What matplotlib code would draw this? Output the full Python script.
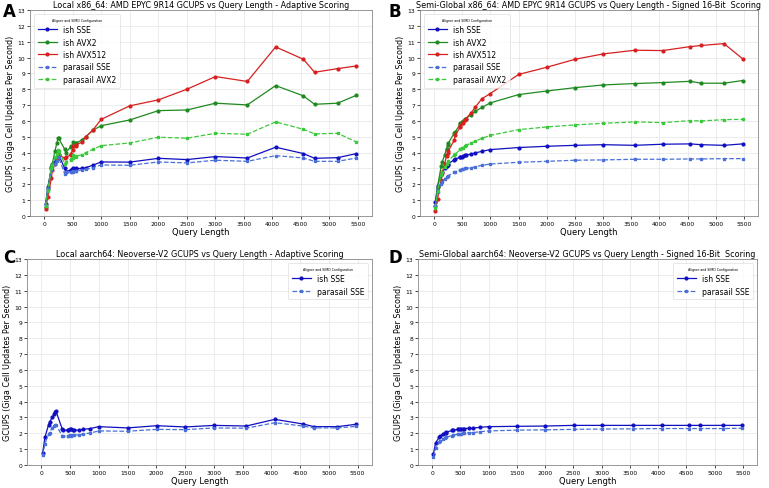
import matplotlib
matplotlib.use("Agg")
import matplotlib.pyplot as plt

# query lengths (sorted)
lengths = [24, 63, 127, 143, 189, 222, 246, 255, 361, 375, 464, 464, 497, 511,
           553, 567, 657, 729, 850, 1000, 1500, 2005, 2504, 3005, 3564, 4061, 4548,
           4743, 5147, 5478]

# A: local x86_64
a_ish_sse = [0.75, 1.8, 3.0, 3.2, 3.4, 3.6, 3.9, 3.85, 3.0, 2.8, 2.9, 2.85, 3.05, 2.95,
             2.95, 3.0, 3.0, 3.05, 3.2, 3.41, 3.4, 3.64, 3.56, 3.75, 3.66, 4.34, 3.94,
             3.64, 3.68, 3.94]
a_ish_avx2 = [0.55, 1.7, 3.1, 3.3, 4.1, 4.6, 4.95, 4.9, 4.2, 4.0, 4.35, 4.4, 4.4, 4.65,
              4.6, 4.6, 4.8, 5.0, 5.4, 5.7, 6.06, 6.65, 6.69, 7.12, 7.01, 8.23, 7.58,
              7.05, 7.12, 7.62]
a_ish_avx512 = [0.45, 1.2, 2.4, 2.9, 3.3, 3.6, 3.8, 3.85, 3.65, 3.7, 3.85, 3.9, 4.15,
                4.4, 4.4, 4.5, 4.65, 5.0, 5.4, 6.1, 6.95, 7.33, 8.0, 8.8, 8.49, 10.67,
                9.89, 9.07, 9.3, 9.47]
a_par_sse = [0.7, 1.7, 2.9, 3.1, 3.3, 3.5, 3.75, 3.7, 2.65, 2.75, 2.8, 2.75, 2.85, 2.8,
             2.85, 2.85, 2.9, 2.95, 3.05, 3.22, 3.2, 3.41, 3.35, 3.52, 3.45, 3.81, 3.66,
             3.45, 3.45, 3.66]
a_par_avx2 = [0.6, 1.6, 3.0, 3.2, 3.7, 3.9, 4.15, 4.1, 3.3, 3.4, 3.6, 3.55, 3.65, 3.85,
              3.75, 3.8, 3.85, 4.0, 4.2, 4.44, 4.61, 4.97, 4.91, 5.22, 5.16, 5.94, 5.47,
              5.18, 5.22, 4.67]

# B: semi-global x86_64
b_ish_sse = [0.9, 1.9, 2.6, 2.75, 3.0, 3.15, 3.25, 3.3, 3.55, 3.6, 3.7, 3.72, 3.75, 3.78,
             3.82, 3.85, 3.9, 3.98, 4.08, 4.19, 4.32, 4.4, 4.46, 4.5, 4.46, 4.53, 4.55,
             4.5, 4.46, 4.55]
b_ish_avx2 = [0.6, 1.85, 3.15, 3.4, 3.85, 4.25, 4.5, 4.6, 5.25, 5.3, 5.8, 5.85, 5.95, 6.0,
              6.1, 6.15, 6.4, 6.6, 6.85, 7.14, 7.66, 7.89, 8.1, 8.27, 8.36, 8.42, 8.5,
              8.38, 8.38, 8.55]
b_ish_avx512 = [0.3, 1.1, 2.3, 2.7, 3.3, 3.8, 4.0, 4.1, 4.8, 5.1, 5.6, 5.7, 5.85, 5.9,
                6.05, 6.15, 6.5, 6.85, 7.4, 7.73, 8.93, 9.39, 9.89, 10.23, 10.46, 10.44,
                10.69, 10.76, 10.88, 9.92]
b_par_sse = [0.6, 1.5, 2.05, 2.15, 2.35, 2.45, 2.5, 2.55, 2.75, 2.8, 2.9, 2.92, 2.95,
             2.97, 3.0, 3.0, 3.05, 3.1, 3.2, 3.28, 3.39, 3.45, 3.52, 3.54, 3.58, 3.58,
             3.6, 3.6, 3.62, 3.62]
b_par_avx2 = [0.5, 1.6, 2.6, 2.8, 3.1, 3.3, 3.4, 3.5, 3.85, 3.9, 4.2, 4.25, 4.3, 4.32,
              4.4, 4.45, 4.6, 4.72, 4.9, 5.09, 5.45, 5.62, 5.75, 5.85, 5.94, 5.89, 6.02,
              6.0, 6.08, 6.1]

# C: local aarch64
c_ish_sse = [0.75, 1.75, 2.55, 2.7, 3.0, 3.2, 3.35, 3.4, 2.3, 2.2, 2.2, 2.2, 2.3, 2.25,
             2.2, 2.2, 2.2, 2.25, 2.3, 2.42, 2.34, 2.48, 2.4, 2.5, 2.46, 2.88, 2.59,
             2.42, 2.42, 2.57]
c_par_sse = [0.6, 1.35, 1.95, 2.05, 2.35, 2.45, 2.55, 2.55, 1.85, 1.8, 1.85, 1.85, 1.9,
             1.85, 1.88, 1.9, 1.9, 1.95, 2.02, 2.15, 2.13, 2.25, 2.23, 2.34, 2.32, 2.67,
             2.46, 2.34, 2.34, 2.44]

# D: semi-global aarch64
d_ish_sse = [0.7, 1.4, 1.75, 1.82, 1.95, 2.0, 2.05, 2.08, 2.18, 2.2, 2.25, 2.25, 2.27,
             2.28, 2.3, 2.3, 2.32, 2.33, 2.38, 2.42, 2.44, 2.46, 2.5, 2.5, 2.5, 2.5,
             2.5, 2.5, 2.5, 2.5]
d_par_sse = [0.5, 1.05, 1.45, 1.5, 1.62, 1.7, 1.75, 1.77, 1.85, 1.88, 1.95, 1.96, 1.97,
             1.98, 2.0, 2.0, 2.03, 2.05, 2.1, 2.15, 2.2, 2.22, 2.25, 2.27, 2.28, 2.3,
             2.3, 2.3, 2.3, 2.32]

styles = {
    "ish SSE": dict(color="#1010c0", ls="-", marker="o"),
    "ish AVX2": dict(color="#1f8a1f", ls="-", marker="o"),
    "ish AVX512": dict(color="#d62020", ls="-", marker="o"),
    "parasail SSE": dict(color="#4a6fd8", ls="--", marker="s"),
    "parasail AVX2": dict(color="#3cc83c", ls="--", marker="s"),
}

panels = [
    ("A", "Local x86_64: AMD EPYC 9R14 GCUPS vs Query Length - Adaptive Scoring",
     [30, 11, 372, 217], "upper left",
     [("ish SSE", a_ish_sse), ("ish AVX2", a_ish_avx2), ("ish AVX512", a_ish_avx512),
      ("parasail SSE", a_par_sse), ("parasail AVX2", a_par_avx2)]),
    ("B", "Semi-Global x86_64: AMD EPYC 9R14 GCUPS vs Query Length - Signed 16-Bit  Scoring",
     [420, 11, 758, 217], "upper left",
     [("ish SSE", b_ish_sse), ("ish AVX2", b_ish_avx2), ("ish AVX512", b_ish_avx512),
      ("parasail SSE", b_par_sse), ("parasail AVX2", b_par_avx2)]),
    ("C", "Local aarch64: Neoverse-V2 GCUPS vs Query Length - Adaptive Scoring",
     [27, 260, 372, 466], "upper right",
     [("ish SSE", c_ish_sse), ("parasail SSE", c_par_sse)]),
    ("D", "Semi-Global aarch64: Neoverse-V2 GCUPS vs Query Length - Signed 16-Bit  Scoring",
     [418, 260, 757, 466], "upper right",
     [("ish SSE", d_ish_sse), ("parasail SSE", d_par_sse)]),
]

W, H = 769, 489
fig = plt.figure(figsize=(W / 100, H / 100), dpi=100)

for letter, title, box, loc, series in panels:
    x0, y0, x1, y1 = box
    ax = fig.add_axes([x0 / W, 1 - y1 / H, (x1 - x0) / W, (y1 - y0) / H])
    for name, vals in series:
        st = styles[name]
        ax.plot(lengths, vals, label=name, color=st["color"], ls=st["ls"],
                marker=st["marker"], ms=2, lw=0.9)
    ax.set_ylim(0, 13)
    ax.set_yticks(range(0, 14))
    ax.set_xticks(range(0, 5501, 500))
    ax.tick_params(labelsize=4.3, length=2, width=0.5, pad=1.5)
    ax.grid(True, color="#e4e4e4", lw=0.5)
    ax.set_axisbelow(True)
    for sp in ax.spines.values():
        sp.set_color("#888888")
        sp.set_linewidth(0.6)
    ax.set_title(title, fontsize=5.8, pad=2)
    ax.set_xlabel("Query Length", fontsize=6, labelpad=1)
    ax.set_ylabel("GCUPS (Giga Cell Updates Per Second)", fontsize=5.8, labelpad=1.5)
    leg = ax.legend(loc=loc, title="Aligner and SIMD Configuration", fontsize=5.5,
                    title_fontsize=2.3, frameon=True, borderpad=0.5, handlelength=2.5,
                    labelspacing=0.45)
    leg.get_frame().set_linewidth(0.4)
    lx = 3 if letter in "AC" else 388
    ly = 3 if letter in "AB" else 249
    fig.text(lx / W, 1 - ly / H, letter, fontsize=12, fontweight="bold", va="top", ha="left")

fig.savefig("out.png", dpi=100)
